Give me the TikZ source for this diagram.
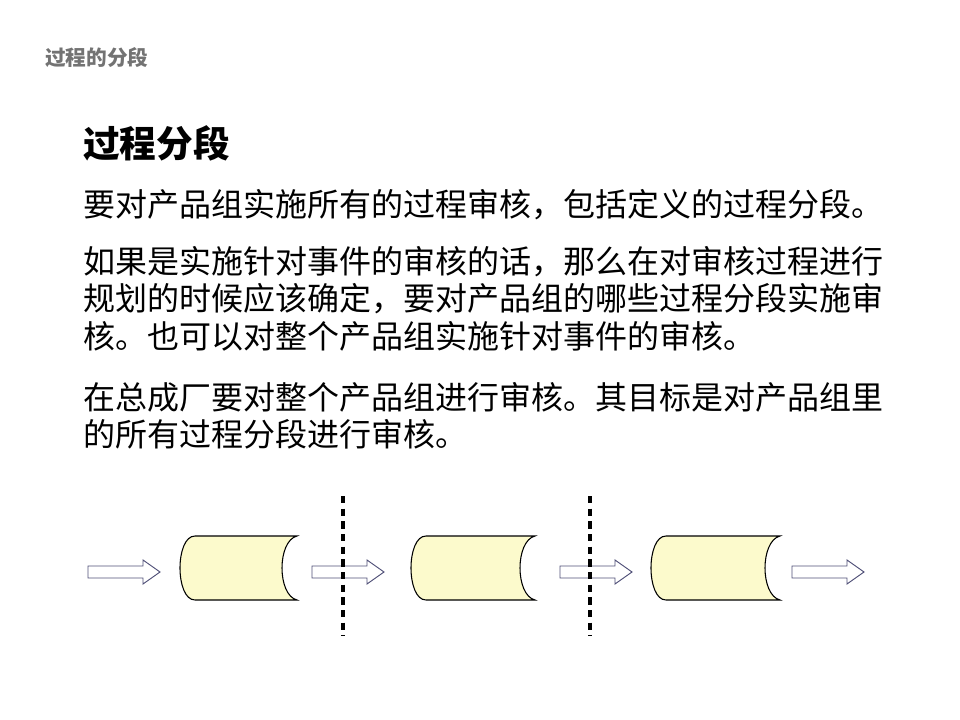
\documentclass[tikz,border=0pt]{standalone}
\usepackage{fontspec}
\setmainfont{Noto Sans CJK SC}
\definecolor{cylfill}{RGB}{252,250,204}
\definecolor{arrowline}{RGB}{80,80,120}
\begin{document}
\begin{tikzpicture}[x=0.75pt,y=-0.75pt,
  body/.style={anchor=west,inner sep=0pt,font=\fontsize{24pt}{28pt}\selectfont},
  cyl/.style={fill=cylfill,draw=black,line width=0.8pt},
  barrow/.style={fill=white,draw=arrowline,line width=0.7pt},
  divider/.style={draw=black,line width=3.5pt,dash pattern=on 5.5pt off 4pt}]
\path[fill=white] (0,0) rectangle (960,720);
\node[anchor=west,inner sep=0pt,text=black!55,font=\bfseries\fontsize{15.5pt}{17pt}\selectfont] (t) at (45,58) {过程的分段};
\node[anchor=west,inner sep=0pt,font=\bfseries\fontsize{27.5pt}{30pt}\selectfont] (h) at (83,143) {过程分段};
\node[body] (l1) at (83,205) {要对产品组实施所有的过程审核，包括定义的过程分段。};
\node[body] (l2) at (83,262) {如果是实施针对事件的审核的话，那么在对审核过程进行};
\node[body] (l3) at (83,299) {规划的时候应该确定，要对产品组的哪些过程分段实施审};
\node[body] (l4) at (83,336) {核。也可以对整个产品组实施针对事件的审核。};
\node[body] (l5) at (83,397) {在总成厂要对整个产品组进行审核。其目标是对产品组里};
\node[body] (l6) at (83,434) {的所有过程分段进行审核。};
\foreach \a/\b in {177/297,408/535,648/780}{
  \draw[cyl] (\a+18,536) -- (\b,536) .. controls (\b-20,541) and (\b-20,595) .. (\b,600) -- (\a+18,600) .. controls (\a-2,600) and (\a-2,536) .. (\a+18,536) -- cycle;
}
\foreach \s in {88,312,560,792}{
  \draw[barrow] (\s,566) -- (\s+55,566) -- (\s+55,560) -- (\s+72,572) -- (\s+55,584) -- (\s+55,578) -- (\s,578) -- cycle;
}
\draw[divider] (343,496) -- (343,636);
\draw[divider] (590,496) -- (590,636);
\end{tikzpicture}
\end{document}
